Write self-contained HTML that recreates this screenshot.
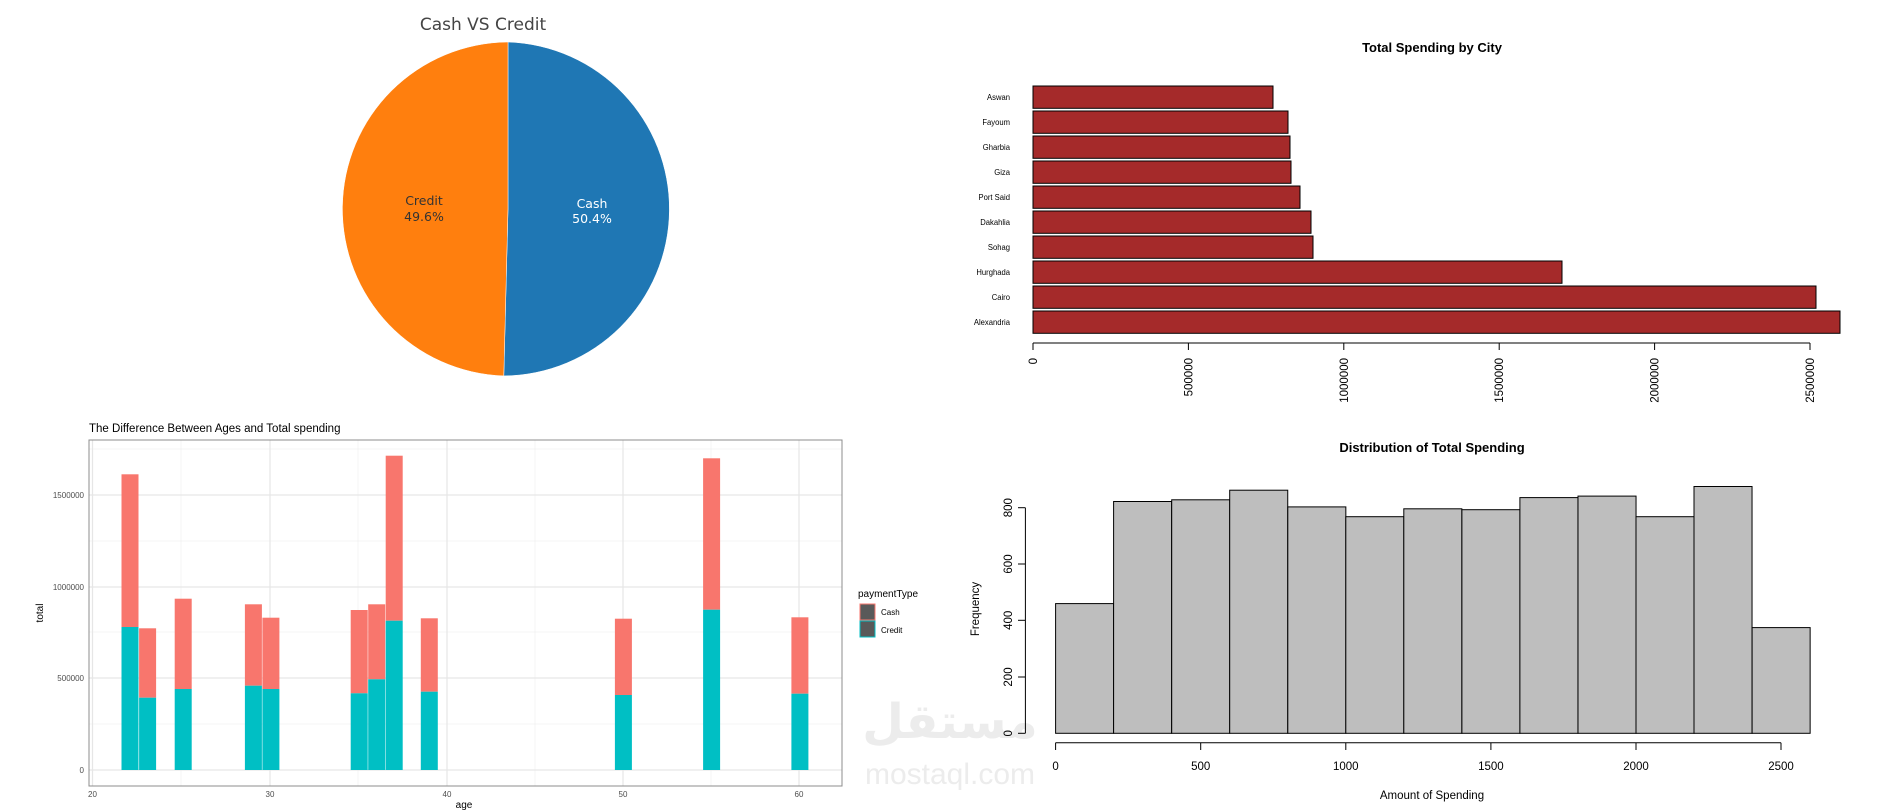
<!DOCTYPE html>
<html><head><meta charset="utf-8"><style>
html,body{margin:0;padding:0;background:#fff;}
svg{display:block;font-family:"Liberation Sans",sans-serif;}
</style></head><body>
<svg width="1896" height="810" viewBox="0 0 1896 810" xmlns="http://www.w3.org/2000/svg">
<rect width="1896" height="810" fill="#fff"/>

<!-- PIE -->
<text x="483" y="30" font-family="DejaVu Sans,sans-serif" font-size="17" fill="#444" text-anchor="middle">Cash VS Credit</text>
<path d="M508,209 L508,42 A167,167 0 0 1 503.8,375.9 Z" fill="#1f77b4" stroke="#fff" stroke-width="0.5"/>
<path d="M508,209 L503.8,375.9 A167,167 0 0 1 508,42 Z" fill="#ff7f0e" stroke="#fff" stroke-width="0.5"/>
<g font-family="DejaVu Sans,sans-serif" font-size="12.5" text-anchor="middle">
<text x="424" y="205" fill="#333">Credit</text>
<text x="424" y="221" fill="#333">49.6%</text>
<text x="592" y="208" fill="#fff">Cash</text>
<text x="592" y="223" fill="#fff">50.4%</text>
</g>

<!-- BAR CHART -->
<text x="1432" y="52" font-size="13" font-weight="bold" text-anchor="middle">Total Spending by City</text>
<g fill="#a52a2a" stroke="#000" stroke-width="1">
<rect x="1033" y="86" width="240" height="22.3"/>
<rect x="1033" y="111" width="255" height="22.3"/>
<rect x="1033" y="136" width="257" height="22.3"/>
<rect x="1033" y="161" width="258" height="22.3"/>
<rect x="1033" y="186" width="267" height="22.3"/>
<rect x="1033" y="211" width="278" height="22.3"/>
<rect x="1033" y="236" width="280" height="22.3"/>
<rect x="1033" y="261" width="529" height="22.3"/>
<rect x="1033" y="286" width="783" height="22.3"/>
<rect x="1033" y="311" width="807" height="22.3"/>
</g>
<g font-size="8.5" text-anchor="end" fill="#000" transform="translate(1010,0) scale(0.9,1) translate(-1010,0)">
<text x="1010" y="100">Aswan</text>
<text x="1010" y="125">Fayoum</text>
<text x="1010" y="150">Gharbia</text>
<text x="1010" y="175">Giza</text>
<text x="1010" y="200">Port Said</text>
<text x="1010" y="225">Dakahlia</text>
<text x="1010" y="250">Sohag</text>
<text x="1010" y="275">Hurghada</text>
<text x="1010" y="300">Cairo</text>
<text x="1010" y="325">Alexandria</text>
</g>
<g stroke="#000" stroke-width="1">
<line x1="1033" y1="343" x2="1810" y2="343"/>
<line x1="1033" y1="343" x2="1033" y2="350"/>
<line x1="1188.4" y1="343" x2="1188.4" y2="350"/>
<line x1="1343.8" y1="343" x2="1343.8" y2="350"/>
<line x1="1499.2" y1="343" x2="1499.2" y2="350"/>
<line x1="1654.6" y1="343" x2="1654.6" y2="350"/>
<line x1="1810" y1="343" x2="1810" y2="350"/>
</g>
<g font-size="11.5" text-anchor="end">
<text transform="translate(1037,358) rotate(-90)">0</text>
<text transform="translate(1192.4,358) rotate(-90)">500000</text>
<text transform="translate(1347.8,358) rotate(-90)">1000000</text>
<text transform="translate(1503.2,358) rotate(-90)">1500000</text>
<text transform="translate(1658.6,358) rotate(-90)">2000000</text>
<text transform="translate(1814,358) rotate(-90)">2500000</text>
</g>

<!-- GGPLOT -->
<text x="89" y="432" font-size="11.5" fill="#000">The Difference Between Ages and Total spending</text>
<rect x="89" y="440" width="753" height="346" fill="#fff"/>
<g stroke="#f2f2f2" stroke-width="0.8">
<line x1="89" x2="842" y1="724" y2="724"/><line x1="89" x2="842" y1="632" y2="632"/>
<line x1="89" x2="842" y1="541" y2="541"/><line x1="89" x2="842" y1="449" y2="449"/>
<line y1="440" y2="786" x1="181" x2="181"/><line y1="440" y2="786" x1="358" x2="358"/>
<line y1="440" y2="786" x1="535" x2="535"/><line y1="440" y2="786" x1="711" x2="711"/>
</g>
<g stroke="#e6e6e6" stroke-width="1.2">
<line x1="89" x2="842" y1="770" y2="770"/><line x1="89" x2="842" y1="678" y2="678"/>
<line x1="89" x2="842" y1="587" y2="587"/><line x1="89" x2="842" y1="495" y2="495"/>
<line y1="440" y2="786" x1="92.5" x2="92.5"/><line y1="440" y2="786" x1="270" x2="270"/>
<line y1="440" y2="786" x1="447" x2="447"/><line y1="440" y2="786" x1="623" x2="623"/>
<line y1="440" y2="786" x1="799" x2="799"/>
</g>
<g>
<rect x="121.5" y="474.3" width="17" height="152.7" fill="#f8766d"/><rect x="121.5" y="627" width="17" height="143" fill="#00bfc4"/>
<rect x="139.1" y="628.3" width="17" height="69.4" fill="#f8766d"/><rect x="139.1" y="697.7" width="17" height="72.3" fill="#00bfc4"/>
<rect x="174.7" y="598.7" width="17" height="90.3" fill="#f8766d"/><rect x="174.7" y="689" width="17" height="81" fill="#00bfc4"/>
<rect x="244.9" y="604.3" width="17" height="81.4" fill="#f8766d"/><rect x="244.9" y="685.7" width="17" height="84.3" fill="#00bfc4"/>
<rect x="262.4" y="617.7" width="17" height="71.3" fill="#f8766d"/><rect x="262.4" y="689" width="17" height="81" fill="#00bfc4"/>
<rect x="350.7" y="610" width="17" height="83.3" fill="#f8766d"/><rect x="350.7" y="693.3" width="17" height="76.7" fill="#00bfc4"/>
<rect x="368.2" y="604.3" width="17" height="75" fill="#f8766d"/><rect x="368.2" y="679.3" width="17" height="90.7" fill="#00bfc4"/>
<rect x="385.7" y="455.7" width="17" height="165" fill="#f8766d"/><rect x="385.7" y="620.7" width="17" height="149.3" fill="#00bfc4"/>
<rect x="420.8" y="618.3" width="17" height="73.4" fill="#f8766d"/><rect x="420.8" y="691.7" width="17" height="78.3" fill="#00bfc4"/>
<rect x="614.9" y="618.7" width="17" height="76.3" fill="#f8766d"/><rect x="614.9" y="695" width="17" height="75" fill="#00bfc4"/>
<rect x="703.1" y="458.3" width="17" height="151.4" fill="#f8766d"/><rect x="703.1" y="609.7" width="17" height="160.3" fill="#00bfc4"/>
<rect x="791.4" y="617.3" width="17" height="76.4" fill="#f8766d"/><rect x="791.4" y="693.7" width="17" height="76.3" fill="#00bfc4"/>
</g>
<rect x="89" y="440" width="753" height="346" fill="none" stroke="#8c8c8c" stroke-width="1"/>
<g font-size="8" fill="#4d4d4d" text-anchor="end">
<text x="84" y="773">0</text><text x="84" y="681">500000</text><text x="84" y="590">1000000</text><text x="84" y="498">1500000</text>
</g>
<g font-size="8" fill="#4d4d4d" text-anchor="middle">
<text x="92.5" y="797">20</text><text x="270" y="797">30</text><text x="447" y="797">40</text><text x="623" y="797">50</text><text x="799" y="797">60</text>
</g>
<text x="464" y="808" font-size="10" text-anchor="middle">age</text>
<text transform="translate(43,613) rotate(-90)" font-size="10" text-anchor="middle">total</text>
<text x="858" y="597" font-size="10">paymentType</text>
<rect x="860" y="604" width="15" height="16" fill="#595959" stroke="#f8766d" stroke-width="1"/>
<rect x="860" y="621" width="15" height="16" fill="#595959" stroke="#00bfc4" stroke-width="1"/>
<text x="881" y="615" font-size="8">Cash</text>
<text x="881" y="633" font-size="8">Credit</text>

<!-- watermark -->
<text x="950" y="738" font-size="48" font-weight="bold" fill="#ececec" text-anchor="middle" font-family="DejaVu Sans,sans-serif">مستقل</text>
<text x="950" y="784" font-size="30" fill="#ececec" text-anchor="middle">mostaql.com</text>

<!-- HISTOGRAM -->
<text x="1432" y="452" font-size="13" font-weight="bold" text-anchor="middle">Distribution of Total Spending</text>
<g fill="#bebebe" stroke="#000" stroke-width="1">
<rect x="1055.6" y="603.6" width="58.04" height="129.7"/>
<rect x="1113.6" y="501.5" width="58.04" height="231.8"/>
<rect x="1171.7" y="499.8" width="58.04" height="233.5"/>
<rect x="1229.7" y="490.2" width="58.04" height="243.1"/>
<rect x="1287.8" y="506.9" width="58.04" height="226.4"/>
<rect x="1345.8" y="516.7" width="58.04" height="216.6"/>
<rect x="1403.8" y="508.8" width="58.04" height="224.5"/>
<rect x="1461.9" y="509.7" width="58.04" height="223.6"/>
<rect x="1519.9" y="497.6" width="58.04" height="235.7"/>
<rect x="1578" y="496.1" width="58.04" height="237.2"/>
<rect x="1636" y="516.7" width="58.04" height="216.6"/>
<rect x="1694" y="486.5" width="58.04" height="246.8"/>
<rect x="1752.1" y="627.6" width="58.04" height="105.7"/>
</g>
<g stroke="#000" stroke-width="1">
<line x1="1055.6" y1="742.7" x2="1781" y2="742.7"/>
<line x1="1055.6" y1="742.7" x2="1055.6" y2="750"/><line x1="1200.7" y1="742.7" x2="1200.7" y2="750"/>
<line x1="1345.8" y1="742.7" x2="1345.8" y2="750"/><line x1="1490.9" y1="742.7" x2="1490.9" y2="750"/>
<line x1="1636" y1="742.7" x2="1636" y2="750"/><line x1="1781" y1="742.7" x2="1781" y2="750"/>
<line x1="1025.4" y1="733.3" x2="1025.4" y2="507.7"/>
<line x1="1025.4" y1="733.3" x2="1018" y2="733.3"/><line x1="1025.4" y1="677" x2="1018" y2="677"/>
<line x1="1025.4" y1="620.3" x2="1018" y2="620.3"/><line x1="1025.4" y1="564" x2="1018" y2="564"/>
<line x1="1025.4" y1="507.7" x2="1018" y2="507.7"/>
</g>
<g font-size="11.5" text-anchor="middle">
<text x="1055.6" y="770">0</text><text x="1200.7" y="770">500</text><text x="1345.8" y="770">1000</text>
<text x="1490.9" y="770">1500</text><text x="1636" y="770">2000</text><text x="1781" y="770">2500</text>
<text transform="translate(1012,733.3) rotate(-90)">0</text>
<text transform="translate(1012,677) rotate(-90)">200</text>
<text transform="translate(1012,620.3) rotate(-90)">400</text>
<text transform="translate(1012,564) rotate(-90)">600</text>
<text transform="translate(1012,507.7) rotate(-90)">800</text>
<text transform="translate(979,609) rotate(-90)">Frequency</text>
<text x="1432" y="799">Amount of Spending</text>
</g>
</svg>
</body></html>
